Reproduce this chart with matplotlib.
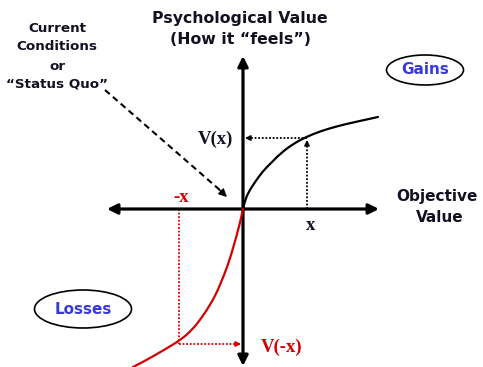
import matplotlib
matplotlib.use("Agg")
import matplotlib.pyplot as plt
from matplotlib.patches import Ellipse, PathPatch
from matplotlib.path import Path

# --- data (origin at the reference point) ---
gains_x = [0, 2, 5, 12, 20, 28, 38, 50, 63, 78, 95, 112, 135]
gains_y = [0, 8, 16, 27, 38, 46, 56, 65, 72, 78, 83, 87, 92]
losses_x = [0, -3.5, -9, -15, -23, -27.5, -33, -41.5, -51, -62.5, -79, -100, -110]
losses_y = [0, -16, -36, -56, -76, -86, -96, -109, -121, -131, -141, -153, -158]
x_gain, v_gain = 64, 71
x_loss, v_loss = -64, -135

title_lines = ["Psychological Value", "(How it \u201cfeels\u201d)"]
ref_lines = ["Current", "Conditions", "or", "\u201cStatus Quo\u201d"]
xaxis_lines = ["Objective", "Value"]

RED = "#d40000"
BLUE = "#3a3ad8"
INK = "#111122"


def smooth_path(xs, ys):
    """Quadratic-Bezier path through the midpoints of the read points."""
    pts = list(zip(xs, ys))
    verts = [pts[0]]
    codes = [Path.MOVETO]
    mid = lambda a, b: ((a[0] + b[0]) / 2, (a[1] + b[1]) / 2)
    verts.append(mid(pts[0], pts[1]))
    codes.append(Path.LINETO)
    for i in range(1, len(pts) - 2):
        verts += [pts[i], mid(pts[i], pts[i + 1])]
        codes += [Path.CURVE3, Path.CURVE3]
    verts += [pts[-2], pts[-1]]
    codes += [Path.CURVE3, Path.CURVE3]
    return Path(verts, codes)


fig = plt.figure(figsize=(4.83, 3.67), dpi=100)
ax = fig.add_axes([0, 0, 1, 1])
ax.set_xlim(-243, 240)
ax.set_ylim(-158, 209)
ax.axis("off")

# main axes with arrowheads
ax.annotate("", xy=(136, 0), xytext=(-136, 0),
            arrowprops=dict(arrowstyle="<|-|>", lw=2.3, color="black",
                            mutation_scale=15, shrinkA=0, shrinkB=0))
ax.annotate("", xy=(0, 153), xytext=(0, -157),
            arrowprops=dict(arrowstyle="<|-|>", lw=2.3, color="black",
                            mutation_scale=15, shrinkA=0, shrinkB=0))

# value curves
ax.add_patch(PathPatch(smooth_path(gains_x, gains_y), fill=False,
                       ec="black", lw=1.6, capstyle="round", zorder=3))
ax.add_patch(PathPatch(smooth_path(losses_x, losses_y), fill=False,
                       ec=RED, lw=1.6, capstyle="round", zorder=3))

# dotted guides (gains)
ax.plot([x_gain, x_gain], [0, v_gain - 6], color="black", lw=1.3, ls=(0, (1, 1)))
ax.annotate("", xy=(x_gain, v_gain - 2), xytext=(x_gain, v_gain - 8),
            arrowprops=dict(arrowstyle="-|>", lw=1, color="black",
                            mutation_scale=8, shrinkA=0, shrinkB=0))
ax.plot([x_gain, 6], [v_gain, v_gain], color="black", lw=1.3, ls=(0, (1, 1)))
ax.annotate("", xy=(2, v_gain), xytext=(8, v_gain),
            arrowprops=dict(arrowstyle="-|>", lw=1, color="black",
                            mutation_scale=8, shrinkA=0, shrinkB=0))

# dotted guides (losses)
ax.plot([x_loss, x_loss], [0, v_loss], color=RED, lw=1.3, ls=(0, (1, 1)))
ax.plot([x_loss, -6], [v_loss, v_loss], color=RED, lw=1.3, ls=(0, (1, 1)))
ax.annotate("", xy=(-2, v_loss), xytext=(-8, v_loss),
            arrowprops=dict(arrowstyle="-|>", lw=1, color=RED,
                            mutation_scale=8, shrinkA=0, shrinkB=0))

# dashed arrow from the reference label
ax.plot([-138, -22], [119, 18], color="black", lw=1.5, ls=(0, (3, 2)))
ax.annotate("", xy=(-16, 12), xytext=(-24, 19.5),
            arrowprops=dict(arrowstyle="-|>", lw=1, color="black",
                            mutation_scale=12, shrinkA=0, shrinkB=0))

sans = dict(family="DejaVu Sans", fontweight="bold", ha="center", va="center")
serif = dict(family="Liberation Serif", fontweight="bold", ha="center", va="center")

for txt, y in zip(title_lines, [191, 169]):
    ax.text(-3, y, txt, fontsize=11.3, color=INK, **sans)
for txt, y in zip(ref_lines, [180, 162, 143, 125]):
    ax.text(-186, y, txt, fontsize=9.7, color=INK, **sans)
for txt, (x, y) in zip(xaxis_lines, [(194, 12), (197, -9)]):
    ax.text(x, y, txt, fontsize=11, color=INK, **sans)

ax.text(-28, 70, "V(x)", fontsize=13.5, color=INK, **serif)
ax.text(-62, 11, "-x", fontsize=13.5, color=RED, **serif)
ax.text(68, -17, "x", fontsize=13.5, color=INK, **serif)
ax.text(39, -138, "V(-x)", fontsize=13.5, color=RED, **serif)

# labelled ellipses
ax.add_patch(Ellipse((182, 139), 77, 30, fill=False, ec="black", lw=1.2))
ax.text(182, 139, "Gains", fontsize=11, color=BLUE, **sans)
ax.add_patch(Ellipse((-160, -100), 97, 38, fill=False, ec="black", lw=1.2))
ax.text(-160, -100, "Losses", fontsize=11, color=BLUE, **sans)

fig.savefig("out.png", dpi=100)
